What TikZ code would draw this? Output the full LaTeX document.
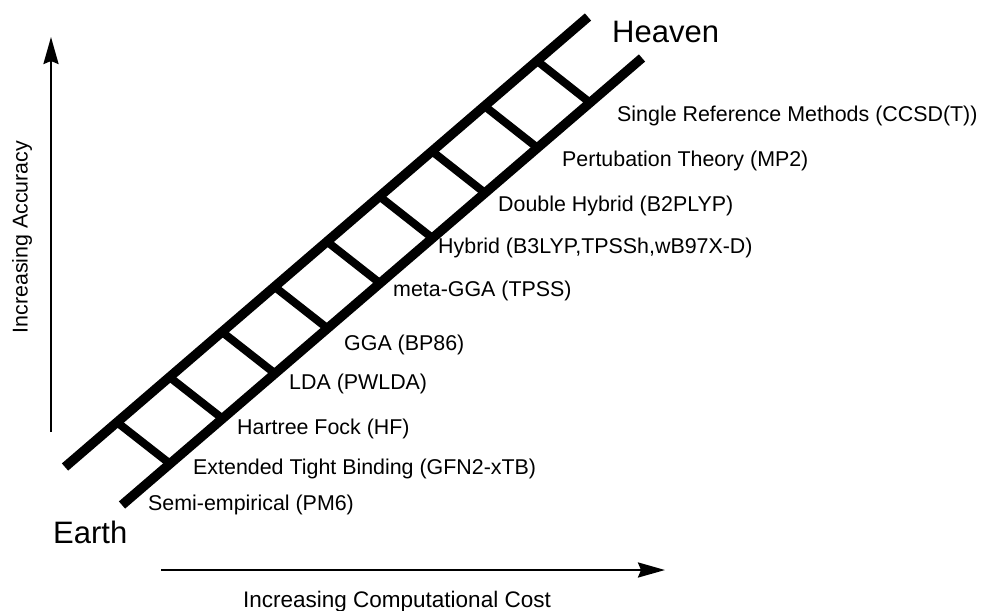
\documentclass[tikz,border=0pt]{standalone}
\usepackage{fontspec}
\setmainfont{Liberation Sans}
\usetikzlibrary{arrows.meta,calc}
\begin{document}
\begin{tikzpicture}[x=1pt,y=-1pt,
  rail/.style={line width=9.5pt},
  rung/.style={line width=8pt},
  axis/.style={line width=2.5pt,-{Stealth[length=27pt,width=15pt,inset=3pt]}},
  lbl/.style={anchor=mid west,inner sep=0pt,font=\fontsize{21.4}{25}\selectfont},
  big/.style={anchor=base west,inner sep=0pt,font=\fontsize{31}{36}\selectfont}]
\useasboundingbox (0,0) rectangle (981,610);
% ladder rails
\coordinate (L0) at (65,467); \coordinate (L1) at (588,17);
\coordinate (R0) at (122,505); \coordinate (R1) at (642,58);
\draw[rail] (L0) -- (L1);
\draw[rail] (R0) -- (R1);
% rungs
\foreach \i in {0,...,8}{
  \pgfmathsetmacro\ta{(52+52.5*\i)/523}
  \pgfmathsetmacro\tb{(48+52.5*\i)/520}
  \coordinate (a\i) at ($(L0)!\ta!(L1)$);
  \coordinate (b\i) at ($(R0)!\tb!(R1)$);
  \draw[rung] (a\i) -- (b\i);
}
% labels
\node[lbl] (m0) at (148,508) {Semi-empirical (PM6)};
\node[lbl] (m1) at (193,472) {Extended Tight Binding (GFN2-xTB)};
\node[lbl] (m2) at (237,432) {Hartree Fock (HF)};
\node[lbl] (m3) at (289,387) {LDA (PWLDA)};
\node[lbl] (m4) at (344,348) {GGA (BP86)};
\node[lbl] (m5) at (393,294) {meta-GGA (TPSS)};
\node[lbl] (m6) at (438,251) {Hybrid (B3LYP,TPSSh,wB97X-D)};
\node[lbl] (m7) at (498,209) {Double Hybrid (B2PLYP)};
\node[lbl] (m8) at (562,164) {Pertubation Theory (MP2)};
\node[lbl] (m9) at (617,119) {Single Reference Methods (CCSD(T))};
\node[big] (heaven) at (612,43) {Heaven};
\node[big] (earth) at (53,543) {Earth};
% axes
\coordinate (va0) at (51,432); \coordinate (va1) at (51,37);
\draw[axis] (va0) -- (va1);
\coordinate (ha0) at (161,570); \coordinate (ha1) at (665,570);
\draw[axis] (ha0) -- (ha1);
\node[rotate=90,anchor=base,inner sep=0pt,font=\fontsize{21.4}{25}\selectfont] (acc) at (27.5,237) {Increasing Accuracy};
\node[anchor=base,inner sep=0pt,font=\fontsize{22.5}{26}\selectfont] (cost) at (397,607) {Increasing Computational Cost};
\end{tikzpicture}
\end{document}
